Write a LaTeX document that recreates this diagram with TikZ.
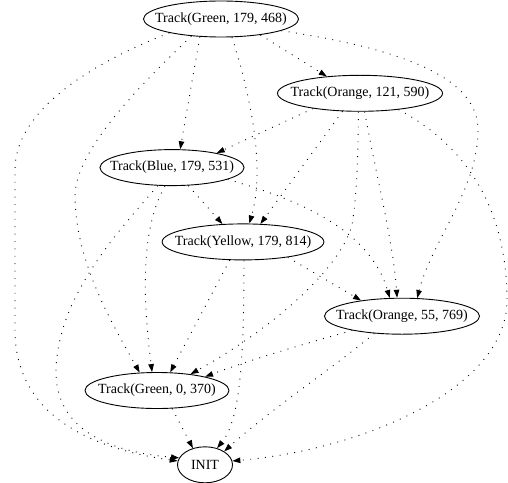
\documentclass[tikz,border=0pt]{standalone}
\usepackage{fontspec}
\setmainfont{Liberation Serif}
\usepackage{tikz}
\usetikzlibrary{arrows.meta,shapes.geometric}
\tikzset{%
  >={Triangle[length=8bp,width=5.5bp]},
  % Specifications for style of nodes:
       trackNode/.style = {ellipse, draw=black, line width=0.9bp,
                           inner xsep=-11bp, inner ysep=0pt,
                           minimum height=36bp, text centered,
                           font=\fontsize{14bp}{16bp}\selectfont},
        initNode/.style = {trackNode, minimum width=55bp},
  % Specification of the dotted links:
       trackLink/.style = {->, line width=0.9bp,
                           dash pattern=on 0.9bp off 6.5bp},
                       }

\begin{document}
\begin{tikzpicture}[x=1bp, y=-1bp, node distance=74.3bp]
  \useasboundingbox (0,0) rectangle (508,483);
  % Specification of nodes (position, etc.)
  \node (Green179)  [trackNode] at (221,19)                      {Track(Green, 179, 468)};
  \node (Orange121) [trackNode, below of=Green179, xshift=139bp]  {Track(Orange, 121, 590)};
  \node (Blue179)   [trackNode, below of=Orange121, xshift=-188bp] {Track(Blue, 179, 531)};
  \node (Yellow179) [trackNode, below of=Blue179, xshift=71bp]    {Track(Yellow, 179, 814)};
  \node (Orange55)  [trackNode, below of=Yellow179, xshift=159bp] {Track(Orange, 55, 769)};
  \node (Green0)    [trackNode, minimum width=144bp,
                     below of=Orange55, xshift=-245bp]            {Track(Green, 0, 370)};
  \node (Init)      [initNode, below of=Green0, xshift=48bp]      {INIT};

  % Specification of links between nodes specified above
  \draw[trackLink] (Green179.-22) -- (Orange121.153);
  \draw[trackLink] (Green179.-140) -- (Blue179.66);
  \draw[trackLink] (Green179.-59) .. controls (252,100) and (265,170) .. (Yellow179.71);
  \draw[trackLink] (Green179.-11) .. controls (410,50) and (478,80) .. (478,130)
                   .. controls (478,190) and (432,240) .. (Orange55.50);
  \draw[trackLink] (Green179.-150) .. controls (140,85) and (76,150) .. (75,195)
                   .. controls (75,260) and (110,320) .. (Green0.134);
  \draw[trackLink] (Green179.-165) .. controls (120,52) and (15,100) .. (15,170)
                   -- (15,330) .. controls (15,420) and (100,450) .. (Init.172);

  \draw[trackLink] (Orange121.-162) -- (Blue179.18);
  \draw[trackLink] (Orange121.-134) -- (Yellow179.46);
  \draw[trackLink] (Orange121.-76) .. controls (375,170) and (393,240) .. (Orange55.105);
  \draw[trackLink] (Orange121.-95) .. controls (358,170) and (356,200) .. (352,225)
                   .. controls (340,270) and (270,330) .. (Green0.26);
  \draw[trackLink] (Orange121.-23) .. controls (475,150) and (507,220) .. (507,300)
                   .. controls (507,390) and (360,450) .. (Init.8);

  \draw[trackLink] (Blue179.-48) -- (Yellow179.139);
  \draw[trackLink] (Blue179.-12) .. controls (300,200) and (370,230) .. (Orange55.124);
  \draw[trackLink] (Blue179.-111) .. controls (140,230) and (143,300) .. (Green0.105);
  \draw[trackLink] (Blue179.-128) .. controls (110,240) and (58,300) .. (56,370)
                   .. controls (55,430) and (110,452) .. (Init.165);

  \draw[trackLink] (Yellow179.-19) -- (Orange55.159);
  \draw[trackLink] (Yellow179.-126) -- (Green0.54);
  \draw[trackLink] (Yellow179.-87) .. controls (244,360) and (240,420) .. (Init.54);

  \draw[trackLink] (Orange55.-164) .. controls (300,345) and (250,360) .. (Green0.16);
  \draw[trackLink] (Orange55.-148) .. controls (330,370) and (270,410) .. (Init.35);

  \draw[trackLink] (Green0.-50) -- (Init.126);
\end{tikzpicture}
\end{document}
